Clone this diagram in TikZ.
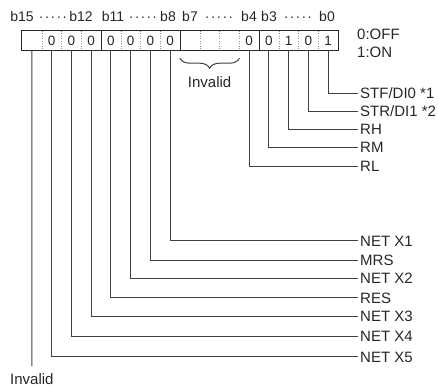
\documentclass[tikz,border=0pt]{standalone}
\usepackage{fontspec}
\setmainfont{Liberation Sans}
\usetikzlibrary{decorations.pathreplacing}
\newcommand{\bitdots}{·\kern1.2pt·\kern1.2pt·\kern1.2pt·\kern1.2pt·}

\begin{document}
\begin{tikzpicture}[x=1pt,y=-1pt,
  cell/.style={minimum width=19.75pt,minimum height=19pt,inner sep=0pt,font=\fontsize{13.5}{13.5}\selectfont,text=black!85},
  frame/.style={line width=1.3pt,draw=black!85},
  sep/.style={dotted,draw=black!45,line width=.5pt},
  lead/.style={line width=1pt,draw=black!75},
  brc/.style={lead,decorate,decoration={brace,mirror,amplitude=10pt}},
  lbl/.style={anchor=west,inner sep=2pt,text height=10.7pt,text depth=0pt,font=\fontsize{15}{15}\selectfont,text=black!85},
  hdr/.style={anchor=base,inner sep=0pt,font=\fontsize{14}{14}\selectfont,text=black!85}]
  \useasboundingbox (0,0) rectangle (438,387);
  \foreach \b/\v in {15/{},14/0,13/0,12/0,11/0,10/0,9/0,8/0,7/{},6/{},5/{},4/0,3/0,2/1,1/0,0/1}
    \node[cell] (b\b) at ({22+(15.5-\b)*19.75},40.5) {\v};
  \foreach \b in {1,2,3,5,6,7,9,10,11,13,14,15}
    \draw[sep] (b\b.north east) -- (b\b.south east);
  \foreach \b in {4,8,12}
    \draw[frame] (b\b.north east) -- (b\b.south east);
  \draw[frame] (b15.north west) rectangle (b0.south east);
  \node[hdr] (h15) at (22,22) {b15};
  \node[hdr] (d1) at (53,22) {\bitdots};
  \node[hdr] (h12) at (81,22) {b12};
  \node[hdr] (h11) at (113,22) {b11};
  \node[hdr] (d2) at (143,22) {\bitdots};
  \node[hdr] (h8) at (168,22) {b8};
  \node[hdr] (h7) at (190,22) {b7};
  \node[hdr] (d3) at (219,22) {\bitdots};
  \node[hdr] (h4) at (249,22) {b4};
  \node[hdr] (h3) at (269,22) {b3};
  \node[hdr] (d4) at (298,22) {\bitdots};
  \node[hdr] (h0) at (327,22) {b0};
  \node[lbl] (off) at (355,34) {0:OFF};
  \node[lbl] (on) at (355,52.5) {1:ON};
  \draw[brc] ([yshift=-8pt]b7.south west) -- ([yshift=-8pt]b5.south east);
  \node[lbl,anchor=north] (inv) at (209.6,75) {Invalid};
  \foreach \b/\y/\t in {0/93.3/{STF/DI0 *1},1/111.3/{STR/DI1 *2},2/129.3/RH,3/147.3/RM,4/166.5/RL,
      8/240.7/NET X1,9/260/MRS,10/278/NET X2,11/297.7/RES,12/316/NET X3,13/336/NET X4,14/356.7/NET X5}{
    \node[lbl] (l\b) at (358,\y) {\t};
    \draw[lead] (b\b.south) |- (l\b.west);
  }
  \coordinate (e15) at (31.9,366);
  \draw[lead] (b15.south) -- (e15);
  \node[lbl,anchor=north,inner sep=1pt] (l15) at ([yshift=-7pt]e15) {Invalid};
\end{tikzpicture}
\end{document}
